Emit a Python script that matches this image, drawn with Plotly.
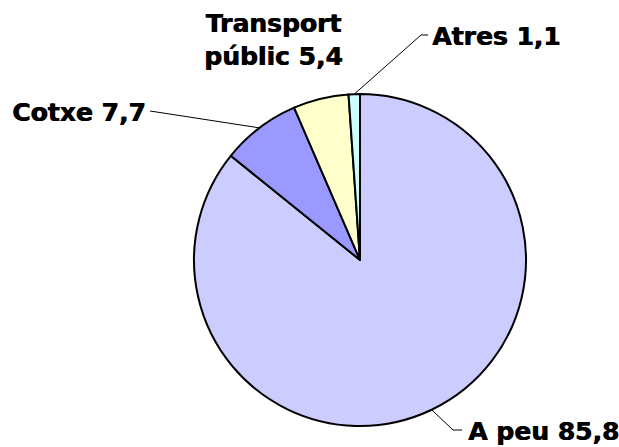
import math
import plotly.graph_objects as go

# ---- data ----
labels = ["A peu", "Cotxe", "Transport públic", "Atres"]
values = [85.8, 7.7, 5.4, 1.1]
value_text = ["85,8", "7,7", "5,4", "1,1"]
colors = ["#CCCCFF", "#9999FF", "#FFFFCC", "#CCFFFF"]

W, H = 619, 447
CX, CY, R = 360, 260, 166  # pie centre / radius in pixels

fig = go.Figure(go.Pie(
    labels=labels,
    values=values,
    sort=False,
    direction="clockwise",
    rotation=0,
    textinfo="none",
    hoverinfo="label+value",
    marker=dict(colors=colors, line=dict(color="black", width=2)),
    domain=dict(x=[(CX - R) / W, (CX + R) / W],
                y=[(H - CY - R) / H, (H - CY + R) / H]),
    showlegend=False,
))

def px(x, y):
    return x / W, 1 - y / H

# mid-angle edge points derived from the data
total = sum(values)
edge = []
cum = 0
for v in values:
    mid = (cum + v / 2) / total * 2 * math.pi
    edge.append((CX + R * math.sin(mid), CY - R * math.cos(mid)))
    cum += v

font = dict(family="DejaVu Sans", size=25, color="black", shadow="0.8px 0px 0px black")

def ann(text, x, y, xanchor):
    ax, ay = px(x, y)
    fig.add_annotation(x=ax, y=ay, xref="paper", yref="paper", text=f"<b>{text}</b>",
                       showarrow=False, xanchor=xanchor, yanchor="middle", font=font,
                       align="center")

ann(f"{labels[0]} {value_text[0]}", 466, 431, "left")
ann(f"{labels[1]} {value_text[1]}", 148, 112, "right")
ann(f"Transport<br>públic {value_text[2]}", 273, 40, "center")
ann(f"{labels[3]} {value_text[3]}", 430, 36, "left")

def path(points):
    s = ""
    for i, (x, y) in enumerate(points):
        X, Y = px(x, y)
        s += ("M" if i == 0 else "L") + f"{X:.5f},{Y:.5f} "
    fig.add_shape(type="path", path=s.strip(), xref="paper", yref="paper",
                  line=dict(color="black", width=1))

path([edge[0], (453, 430), (462, 430)])
path([(150, 111), edge[1]])
path([edge[3], (421, 35), (428, 35)])

fig.update_layout(width=W, height=H, margin=dict(l=0, r=0, t=0, b=0),
                  paper_bgcolor="white", plot_bgcolor="white")
fig.write_html("out.html", config={"displayModeBar": False},
               post_script="document.body.style.margin='0';")
